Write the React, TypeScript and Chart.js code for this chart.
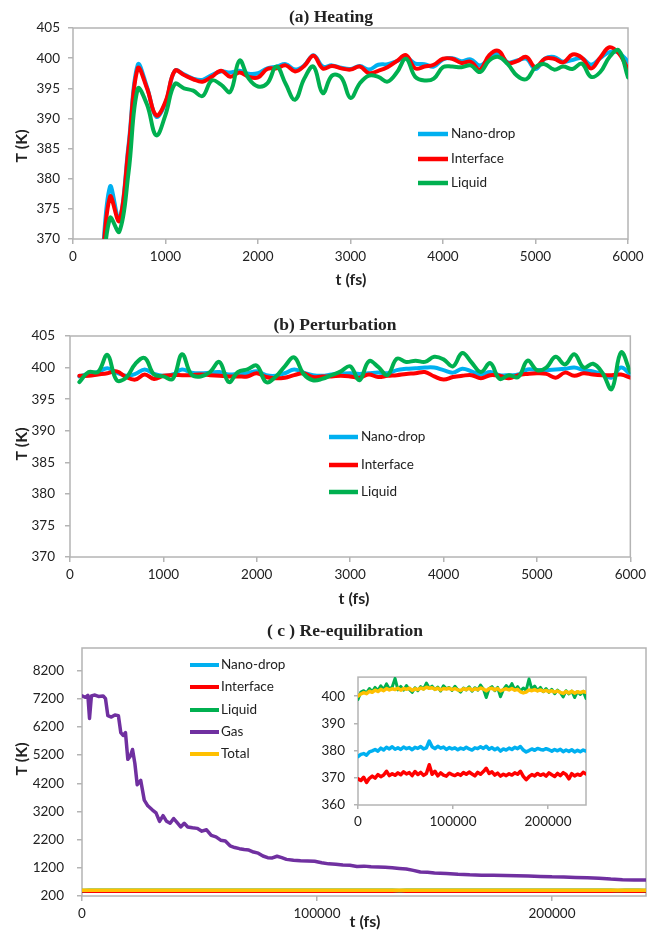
import React, { useEffect, useRef } from 'react';
import { Chart, registerables } from 'chart.js';
Chart.register(...registerables);

// ---------- Panel (a) Heating ----------
const T_A = [300,400,500,600,700,800,900,1000,1100,1200,1300,1400,1500,1600,1700,1800,1900,2000,2100,2200,2300,2400,2500,2600,2700,2800,2900,3000,3100,3200,3300,3400,3500,3600,3700,3800,3900,4000,4100,4200,4300,4400,4500,4600,4700,4800,4900,5000,5100,5200,5300,5400,5500,5600,5700,5800,5900,6000];
const NANO_A = [363,378.7,373.2,385.5,398.9,395.2,390.3,392.6,397.9,397.3,396.6,396.4,397.2,397.8,397.6,397.9,397.4,397.5,398.3,398.6,399.0,398.1,398.8,400.5,398.6,398.8,398.4,398.2,398.7,398.1,398.9,399.0,399.5,400.1,399.1,399.0,398.6,399.8,400.0,399.5,399.8,398.8,399.9,400.8,399.3,399.6,399.9,398.2,399.9,400.2,399.4,399.7,400.0,398.9,400.0,401.0,400.9,399.4];
const INTF_A = [362.5,377.0,373.0,385.0,398.3,395.0,390.5,392.8,397.9,397.2,396.5,396.1,396.9,397.9,396.9,397.6,396.9,396.8,398.2,398.3,398.8,397.8,398.7,400.4,398.3,398.7,398.3,398.1,398.6,397.5,397.9,398.5,399.5,400.5,398.3,398.6,398.9,399.9,399.9,399.2,399.4,398.1,400.5,401.2,399.2,399.5,400.2,398.5,399.9,399.9,399.3,400.6,400.1,398.3,400.1,401.8,400.8,398.2];
const LIQ_A = [361,373.5,371.2,381.0,394.9,392.3,387.2,390.6,395.7,395.0,394.6,393.7,396.3,395.6,394.4,399.6,396.6,395.3,395.8,398.6,395.7,393.1,396.6,398.6,394.2,397.1,396.8,393.4,395.8,397.1,396.9,396.1,397.6,399.9,396.9,396.3,396.6,398.5,398.6,398.5,398.8,397.7,399.6,400.2,399.0,397.1,396.5,398.5,399.0,398.1,398.6,398.2,399.1,396.9,397.7,400.2,401.3,396.8];

// ---------- Panel (b) Perturbation ----------
const T_B = [100,200,300,400,500,600,700,800,900,1000,1100,1200,1300,1400,1500,1600,1700,1800,1900,2000,2100,2200,2300,2400,2500,2600,2700,2800,2900,3000,3100,3200,3300,3400,3500,3600,3700,3800,3900,4000,4100,4200,4300,4400,4500,4600,4700,4800,4900,5000,5100,5200,5300,5400,5500,5600,5700,5800,5900,6000];
const NANO_B = [398.6,399.0,399.3,399.9,399.2,398.7,399.0,399.7,399.0,398.7,398.9,399.7,399.2,399.1,399.2,399.3,398.9,399.0,399.1,399.4,398.8,398.7,399.1,399.7,399.2,398.8,398.7,398.9,399.0,399.1,399.0,399.1,399.2,399.1,399.6,399.8,399.9,400.0,400.0,399.6,399.2,399.8,399.4,398.9,399.3,398.8,398.8,398.9,399.7,399.6,399.6,399.7,399.8,400.0,399.6,399.4,399.0,398.4,400.0,398.9];
const INTF_B = [398.7,398.7,398.9,399.1,399.4,398.5,398.1,398.9,398.2,398.7,398.8,398.8,398.8,398.9,398.8,398.7,398.6,398.6,398.6,399.1,398.5,398.3,398.4,398.8,399.1,398.5,398.6,398.6,398.7,398.6,398.4,398.9,398.5,398.7,398.8,399.0,399.1,399.3,398.6,398.1,398.5,398.7,398.8,398.3,398.8,398.7,398.3,398.8,399.0,399.1,399.0,398.4,399.2,398.7,399.1,398.9,398.8,398.8,398.9,398.4];
const LIQ_B = [397.7,399.3,399.3,402.0,398.0,398.4,400.6,401.5,398.9,398.6,398.2,402.1,398.9,398.6,399.3,400.9,397.7,399.3,399.7,400.3,397.7,398.5,400.2,401.6,399.0,398.0,398.2,398.8,399.4,400.2,398.0,401.0,400.1,398.8,401.4,400.9,401.1,400.9,401.7,401.3,400.2,402.3,400.8,399.3,400.7,398.2,398.8,398.5,401.1,399.6,400.0,401.7,400.5,402.1,400.0,400.6,399.2,396.6,402.4,399.3];

// ---------- Panel (c) Re-equilibration ----------
const T_C = [0,3000,6000,9000,12000,15000,18000,21000,24000,27000,
  30000,33000,36000,39000,42000,45000,48000,51000,54000,57000,
  60000,63000,66000,69000,72000,75000,78000,81000,84000,87000,
  90000,93000,96000,99000,102000,105000,108000,111000,114000,117000,
  120000,123000,126000,129000,132000,135000,138000,141000,144000,147000,
  150000,153000,156000,159000,162000,165000,168000,171000,174000,177000,
  180000,183000,186000,189000,192000,195000,198000,201000,204000,207000,
  210000,213000,216000,219000,222000,225000,228000,231000,234000,237000,
  240000];
const NANO_C = [377.8,378.6,378.9,378.3,379.5,379.9,380.4,379.8,380.9,380.2,
  381.2,380.6,381.4,380.5,381.0,380.4,381.3,380.7,381.1,380.3,
  381.2,380.8,381.5,380.6,381.0,383.5,381.4,380.7,381.6,380.9,
  381.3,380.4,381.1,380.6,381.0,380.3,380.9,380.5,381.2,380.6,
  380.2,381.0,380.7,381.4,380.8,381.6,380.5,381.1,380.3,380.9,
  379.8,380.6,380.2,380.9,380.4,381.2,380.7,381.5,380.2,379.5,
  380.0,380.6,380.1,380.8,380.4,380.2,380.7,380.3,379.8,380.4,
  379.9,380.5,379.6,380.2,379.7,380.3,379.5,380.1,379.6,380.2,
  379.8];
const INTF_C = [369.6,369.0,370.2,368.3,369.8,370.6,369.9,371.2,370.4,371.0,
  372.4,370.8,371.5,370.9,371.8,371.1,372.2,371.4,371.9,370.8,
  372.3,371.2,372.0,370.9,371.6,374.8,371.3,372.4,370.7,371.8,
  371.0,370.6,371.7,371.2,370.8,371.5,370.9,371.9,371.3,372.1,
  371.4,370.7,372.0,371.3,372.3,373.5,371.6,372.2,371.0,371.7,
  370.6,371.3,370.8,371.5,371.0,371.8,371.3,372.4,370.5,369.3,
  370.4,371.2,370.7,371.6,370.9,371.4,370.6,371.8,371.1,370.5,
  371.6,370.8,371.9,371.2,369.6,371.5,370.7,371.3,370.9,372.0,
  371.4];
const LIQ_C = [398.8,401.5,402.0,401.2,402.8,401.6,403.2,402.1,403.8,402.4,
  404.5,402.6,403.4,406.5,402.3,403.6,402.2,403.9,402.5,401.4,
  403.1,402.0,403.5,402.6,404.8,402.9,403.7,402.4,403.3,401.9,
  403.8,402.7,403.2,402.1,403.6,402.4,401.5,403.0,402.3,403.4,
  401.8,403.1,402.2,404.1,402.6,399.5,402.8,403.5,402.0,403.2,
  399.8,402.4,403.9,402.7,404.6,402.3,403.5,401.9,403.0,402.1,
  406.3,402.5,403.7,402.0,403.2,401.6,402.8,401.4,402.5,400.9,
  402.2,401.3,399.7,402.0,400.8,401.9,399.5,401.7,400.6,401.8,
  399.2];
const TOT_C = [400.0,400.8,401.3,400.9,401.8,401.4,402.2,401.7,402.5,402.0,
  402.8,402.3,402.7,402.4,402.9,402.2,402.8,402.5,402.9,402.1,
  402.7,402.4,403.0,402.6,403.3,402.9,403.1,402.5,402.9,402.3,
  402.8,402.6,402.9,402.4,402.8,402.3,402.1,402.7,402.4,402.9,
  402.2,402.7,402.4,403.0,402.6,402.0,402.7,402.9,402.3,402.8,
  401.9,402.4,402.7,402.3,402.8,402.2,402.5,401.6,401.2,401.5,
  402.3,402.0,402.4,401.9,402.3,401.8,402.1,401.6,402.0,401.5,
  401.9,401.4,401.0,401.7,401.2,401.8,401.1,401.6,401.3,401.7,
  401.4];
const GAS_T = [0,1500,2500,3200,4000,5500,7000,9000,10000,11000,
  12500,14000,15500,16500,17500,18500,19500,20500,21500,22500,
  23500,25000,26500,28000,30000,31500,33000,34500,36000,37500,
  39000,40500,42000,43500,45000,47000,49000,51000,53000,55000,
  57000,59000,61000,63000,65000,67000,69000,71000,73000,75000,
  77000,79000,81000,83000,85000,87000,90000,93000,96000,99000,
  102000,105000,108000,111000,114000,117000,120000,123000,126000,129000,
  132000,135000,138000,141000,144000,147000,150000,155000,160000,165000,
  170000,175000,180000,185000,190000,195000,200000,205000,210000,215000,
  220000,225000,230000,235000,240000];
const GAS_V = [7300,7250,7320,6500,7300,7330,7280,7300,7200,6600,
  6550,6620,6600,6000,5900,6000,5050,5150,5400,4900,
  4150,4300,3600,3400,3250,3150,2850,3050,2850,2780,
  2950,2800,2650,2780,2650,2620,2600,2500,2550,2350,
  2300,2180,2150,1980,1920,1880,1850,1830,1760,1720,
  1620,1560,1550,1610,1560,1500,1470,1450,1440,1430,
  1380,1340,1330,1300,1290,1250,1260,1240,1230,1220,
  1200,1180,1160,1110,1050,1040,1020,1000,970,950,
  940,935,930,920,910,895,880,875,860,850,
  830,800,780,770,770];

// ---------- Ticks & labels ----------
const X_TICKS_AB = [0,1000,2000,3000,4000,5000,6000];
const Y_TICKS_AB = [370,375,380,385,390,395,400,405];
const X_TICKS_C = [0,100000,200000];
const Y_TICKS_C = [200,1200,2200,3200,4200,5200,6200,7200,8200];
const Y_TICKS_INSET = [360,370,380,390,400];
const SERIES_AB = ['Nano-drop','Interface','Liquid'];
const SERIES_C = ['Nano-drop','Interface','Liquid','Gas','Total'];

const COLORS: Record<string,string> = {
  'Nano-drop': '#00B0F0',
  'Interface': '#FF0000',
  'Liquid': '#00B050',
  'Gas': '#7030A0',
  'Total': '#FFC000',
};

const AXIS_COLOR = '#b4b4b4';
const TICK_FONT = { family: 'Lato, "DejaVu Sans", sans-serif', size: 13.5 };
const TEXT_COLOR = '#222222';

type TextItem = { text: string; x: number; y: number; font: string; rotate?: boolean };
type LegendSpec = { x1: number; x2: number; tx: number; ys: number[]; labels: string[]; lw: number };

interface PanelSpec {
  box: [number, number, number, number];
  area: [number, number, number, number];
  xr: [number, number]; xt: number[];
  yr: [number, number]; yt: number[];
  yPad: number; xPad: number; tickLen: number;
  datasets: any[];
  texts: TextItem[];
  legend?: LegendSpec;
  bg?: boolean;
}

const pts = (t: number[], v: number[]) => t.map((x, i) => ({ x, y: v[i] }));

function line(label: string, t: number[], v: number[], width: number, order: number, tension: number) {
  return {
    label,
    data: pts(t, v),
    borderColor: COLORS[label],
    backgroundColor: COLORS[label],
    borderWidth: width,
    pointRadius: 0,
    tension,
    fill: false,
    order,
    clip: 0,
    borderCapStyle: 'round',
    borderJoinStyle: 'round',
  };
}

function decor(p: PanelSpec) {
  const [cx, cy] = p.box;
  return {
    id: 'decor',
    beforeDatasetsDraw(chart: any) {
      const { ctx, chartArea: a } = chart;
      ctx.save();
      ctx.strokeStyle = AXIS_COLOR;
      ctx.lineWidth = 1.5;
      ctx.strokeRect(a.left, a.top, a.right - a.left, a.bottom - a.top);
      ctx.restore();
    },
    beforeDraw(chart: any) {
      if (!p.bg) return;
      const { ctx, chartArea: a } = chart;
      ctx.save();
      ctx.fillStyle = '#ffffff';
      ctx.fillRect(a.left, a.top, a.right - a.left, a.bottom - a.top);
      ctx.restore();
    },
    afterDraw(chart: any) {
      const ctx = chart.ctx;
      ctx.save();
      ctx.fillStyle = TEXT_COLOR;
      ctx.textBaseline = 'middle';
      ctx.textAlign = 'center';
      for (const t of p.texts) {
        ctx.font = t.font;
        if (t.rotate) {
          ctx.save();
          ctx.translate(t.x - cx, t.y - cy);
          ctx.rotate(-Math.PI / 2);
          ctx.fillText(t.text, 0, 0);
          ctx.restore();
        } else {
          ctx.fillText(t.text, t.x - cx, t.y - cy);
        }
      }
      if (p.legend) {
        const L = p.legend;
        ctx.textAlign = 'left';
        ctx.font = '13.5px Lato, "DejaVu Sans", sans-serif';
        L.labels.forEach((lab, i) => {
          const y = L.ys[i] - cy;
          ctx.strokeStyle = COLORS[lab];
          ctx.lineWidth = L.lw;
          ctx.lineCap = 'butt';
          ctx.beginPath();
          ctx.moveTo(L.x1 - cx, y);
          ctx.lineTo(L.x2 - cx, y);
          ctx.stroke();
          ctx.fillStyle = TEXT_COLOR;
          ctx.fillText(lab, L.tx - cx, y);
        });
      }
      ctx.restore();
    },
  };
}

function buildConfig(p: PanelSpec): any {
  const [cx, cy, cw, ch] = p.box;
  const [L, T, R, B] = p.area;
  const yW = L - cx;
  const xH = cy + ch - B;
  const grid = { display: true, drawOnChartArea: false, drawTicks: true, tickLength: p.tickLen, color: AXIS_COLOR, lineWidth: 1.5 };
  return {
    type: 'line',
    data: { datasets: p.datasets },
    options: {
      animation: false,
      responsive: false,
      maintainAspectRatio: false,
      devicePixelRatio: 1,
      events: [],
      layout: { padding: { left: 0, top: T - cy, right: cx + cw - R, bottom: 0 } },
      plugins: { legend: { display: false }, tooltip: { enabled: false }, title: { display: false } },
      scales: {
        x: {
          type: 'linear', min: p.xr[0], max: p.xr[1],
          afterBuildTicks: (ax: any) => { ax.ticks = p.xt.map((value) => ({ value })); },
          afterFit: (ax: any) => { ax.height = xH; },
          ticks: { font: TICK_FONT, color: TEXT_COLOR, padding: p.xPad, maxRotation: 0, autoSkip: false, callback: (v: any) => String(v) },
          grid, border: { display: false },
        },
        y: {
          type: 'linear', min: p.yr[0], max: p.yr[1],
          afterBuildTicks: (ax: any) => { ax.ticks = p.yt.map((value) => ({ value })); },
          afterFit: (ax: any) => { ax.width = yW; },
          ticks: { font: TICK_FONT, color: TEXT_COLOR, padding: p.yPad, autoSkip: false, callback: (v: any) => String(v) },
          grid, border: { display: false },
        },
      },
    },
    plugins: [decor(p)],
  };
}

const TITLE_FONT = 'bold 17.5px "Liberation Serif", "Times New Roman", serif';
const AXIS_TITLE_FONT = 'bold 16px Lato, "DejaVu Sans", sans-serif';

const PANELS: PanelSpec[] = [
  {
    box: [0, 0, 651, 300], area: [73, 28, 628, 239],
    xr: [0, 6000], xt: X_TICKS_AB, yr: [370, 405], yt: Y_TICKS_AB,
    yPad: 8, xPad: 5, tickLen: 5,
    datasets: [
      line('Nano-drop', T_A, NANO_A, 4, 3, 0.4),
      line('Interface', T_A, INTF_A, 4, 2, 0.4),
      line('Liquid', T_A, LIQ_A, 4, 1, 0.4),
    ],
    texts: [
      { text: '(a) Heating', x: 331, y: 17, font: TITLE_FONT },
      { text: 'T (K)', x: 22, y: 146, font: AXIS_TITLE_FONT, rotate: true },
      { text: 't (fs)', x: 351, y: 280, font: AXIS_TITLE_FONT },
    ],
    legend: { x1: 418, x2: 448, tx: 451, ys: [134, 159, 183], labels: SERIES_AB, lw: 4.5 },
  },
  {
    box: [0, 300, 651, 310], area: [70, 336, 637, 557],
    xr: [0, 6000], xt: X_TICKS_AB, yr: [370, 405], yt: Y_TICKS_AB,
    yPad: 10, xPad: 5, tickLen: 5,
    datasets: [
      line('Nano-drop', T_B, NANO_B, 4, 3, 0.4),
      line('Interface', T_B, INTF_B, 4, 2, 0.4),
      line('Liquid', T_B, LIQ_B, 4, 1, 0.4),
    ],
    texts: [
      { text: '(b) Perturbation', x: 335, y: 325, font: TITLE_FONT },
      { text: 'T (K)', x: 22, y: 444, font: AXIS_TITLE_FONT, rotate: true },
      { text: 't (fs)', x: 354, y: 599, font: AXIS_TITLE_FONT },
    ],
    legend: { x1: 329, x2: 358, tx: 361, ys: [437, 465, 492], labels: SERIES_AB, lw: 4.5 },
  },
  {
    box: [0, 610, 651, 320], area: [82, 648, 646, 896],
    xr: [0, 240000], xt: X_TICKS_C, yr: [200, 9000], yt: Y_TICKS_C,
    yPad: 13, xPad: 5, tickLen: 5,
    datasets: [
      line('Nano-drop', T_C, NANO_C, 3.5, 5, 0),
      line('Interface', T_C, INTF_C, 3.5, 4, 0),
      line('Liquid', T_C, LIQ_C, 3.5, 3, 0),
      line('Gas', GAS_T, GAS_V, 3.5, 2, 0),
      line('Total', T_C, TOT_C, 3.5, 1, 0),
    ],
    texts: [
      { text: '( c ) Re-equilibration', x: 345, y: 631, font: TITLE_FONT },
      { text: 'T (K)', x: 22, y: 759, font: AXIS_TITLE_FONT, rotate: true },
      { text: 't (fs)', x: 365, y: 922, font: AXIS_TITLE_FONT },
    ],
    legend: { x1: 190, x2: 219, tx: 221, ys: [665, 687, 710, 732, 754], labels: SERIES_C, lw: 4 },
  },
  {
    box: [315, 660, 285, 180], area: [358, 671, 586, 805],
    xr: [0, 240000], xt: X_TICKS_C, yr: [360, 407], yt: Y_TICKS_INSET,
    yPad: 9, xPad: 5, tickLen: 4,
    datasets: [
      line('Nano-drop', T_C, NANO_C, 3.5, 4, 0),
      line('Interface', T_C, INTF_C, 3.5, 3, 0),
      line('Liquid', T_C, LIQ_C, 3, 2, 0),
      line('Total', T_C, TOT_C, 3.5, 1, 0),
    ],
    texts: [],
    bg: true,
  },
];

export default function App() {
  const refs = [useRef<HTMLCanvasElement>(null), useRef<HTMLCanvasElement>(null), useRef<HTMLCanvasElement>(null), useRef<HTMLCanvasElement>(null)];
  useEffect(() => {
    const charts: Chart[] = [];
    PANELS.forEach((p, i) => {
      const c = refs[i].current;
      if (c) charts.push(new Chart(c, buildConfig(p)));
    });
    return () => { charts.forEach((ch) => ch.destroy()); };
  }, []);
  return (
    <div style={{ position: 'absolute', left: 0, top: 0, width: 651, height: 930, background: '#ffffff', overflow: 'hidden' }}>
      {PANELS.map((p, i) => (
        <canvas
          key={i}
          ref={refs[i]}
          width={p.box[2]}
          height={p.box[3]}
          style={{ position: 'absolute', left: p.box[0], top: p.box[1], width: p.box[2], height: p.box[3] }}
        />
      ))}
    </div>
  );
}
